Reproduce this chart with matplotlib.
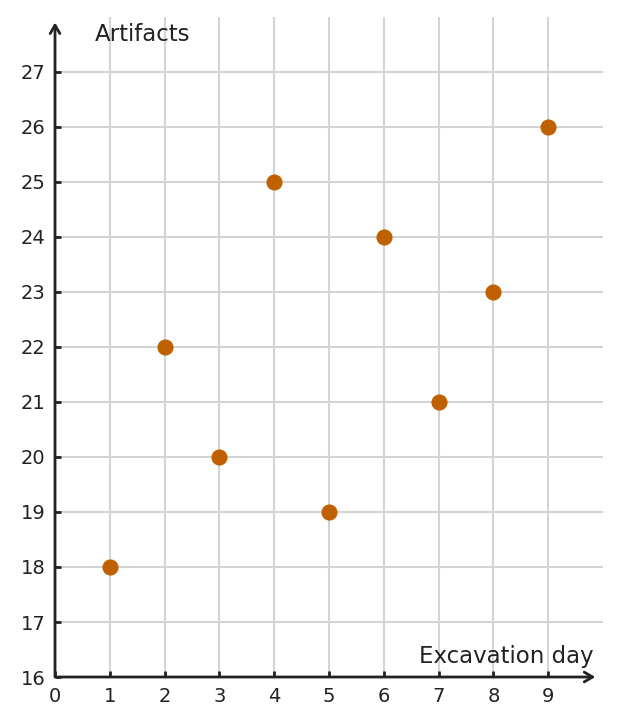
import matplotlib.pyplot as plt

plt.rcParams['font.family'] = ['DejaVu Sans']

# excavation days and artifacts found per day
days = [1, 2, 3, 4, 5, 6, 7, 8, 9]
artifacts = [18, 22, 20, 25, 19, 24, 21, 23, 26]

x_ticks = list(range(0, 10))
y_ticks = list(range(16, 28))

fig = plt.figure(figsize=(6.21, 7.25), dpi=100)
ax = fig.add_axes([0.0886, 0.0662, 0.8824, 0.9104])

ax.set_xlim(0, 10)
ax.set_ylim(16, 28)

# light grid, only at the labelled ticks past the origin
for x in x_ticks[1:]:
    ax.axvline(x, color='#d4d4d4', lw=1.5, zorder=0)
for y in y_ticks[1:]:
    ax.axhline(y, color='#d4d4d4', lw=1.5, zorder=0)

ax.scatter(days, artifacts, s=135, color='#bf6100', zorder=3, linewidths=0)

for side in ['top', 'right', 'left', 'bottom']:
    ax.spines[side].set_visible(False)

# axes drawn as arrows
arrow = dict(arrowstyle='->,head_length=0.6,head_width=0.35', lw=2, color='#222222',
             shrinkA=0, shrinkB=0)
ax.annotate('', xy=(9.86, 16), xytext=(0.05, 16), arrowprops=arrow, annotation_clip=False)
ax.annotate('', xy=(0, 27.9), xytext=(0, 16), arrowprops=arrow, annotation_clip=False)

ax.set_xticks(x_ticks)
ax.set_yticks(y_ticks)
ax.tick_params(direction='in', length=4, width=2, color='#222222',
               labelsize=14, labelcolor='#222222', pad=7)

ax.text(0.72, 27.69, 'Artifacts', fontsize=16.5, color='#222222', ha='left', va='center')
ax.text(9.82, 16.38, 'Excavation day', fontsize=16.5, color='#222222', ha='right', va='center')

fig.savefig('out.png', dpi=100)
